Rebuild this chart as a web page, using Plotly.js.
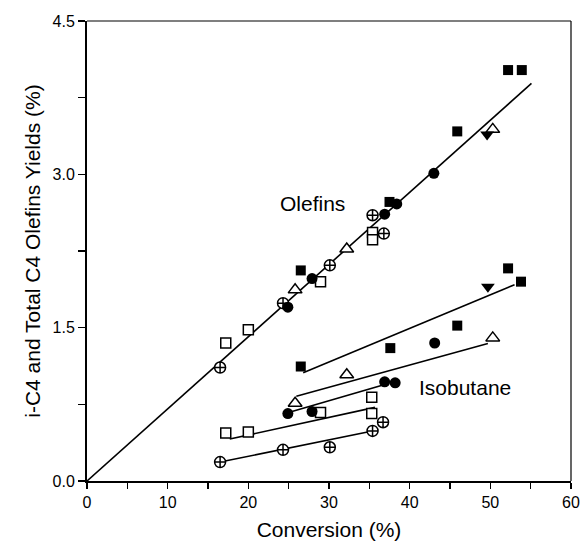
<!DOCTYPE html>
<html>
<head>
<meta charset="utf-8">
<script src="https://cdn.plot.ly/plotly-3.0.1.min.js"></script>
<style>html,body{margin:0;padding:0;background:#fff;}#chart{width:580px;height:544px;}</style>
</head>
<body>
<div id="chart"></div>
<script>
// ---- Data ----
// Olefins yields
const olefFilledSqX = [26.5, 37.5, 45.9, 52.2, 53.9];
const olefFilledSqY = [2.06, 2.73, 3.42, 4.02, 4.02];
const olefFilledCirX = [24.9, 27.9, 36.9, 38.4, 43.0];
const olefFilledCirY = [1.70, 1.98, 2.61, 2.71, 3.01];
const olefOpenSqX = [17.2, 20.0, 28.95, 35.4, 35.4];
const olefOpenSqY = [1.35, 1.48, 1.95, 2.43, 2.36];
const olefCrossX = [16.5, 24.3, 30.1, 35.4, 36.8];
const olefCrossY = [1.11, 1.74, 2.11, 2.60, 2.42];
const olefTriX = [25.8, 32.2, 50.3];
const olefTriY = [1.87, 2.27, 3.44];
const olefTriDownX = [49.6];
const olefTriDownY = [3.39];

// Isobutane yields
const isoFilledSqX = [26.5, 37.6, 45.9, 52.2, 53.8];
const isoFilledSqY = [1.12, 1.30, 1.52, 2.08, 1.95];
const isoFilledCirX = [24.9, 27.9, 36.9, 38.2, 43.1];
const isoFilledCirY = [0.66, 0.68, 0.97, 0.96, 1.35];
const isoOpenSqX = [17.2, 20.0, 28.95, 35.3, 35.3];
const isoOpenSqY = [0.47, 0.48, 0.67, 0.82, 0.66];
const isoCrossX = [16.5, 24.3, 30.1, 35.4, 36.7];
const isoCrossY = [0.185, 0.305, 0.33, 0.49, 0.575];
const isoTriX = [25.8, 32.2, 50.3];
const isoTriY = [0.76, 1.04, 1.40];
const isoTriDownX = [49.7];
const isoTriDownY = [1.90];

// Fitted lines (end points)
const fitOlefX = [0, 55.1];
const fitOlefY = [0, 3.89];
const fitIsoSqX = [26.8, 53.0];
const fitIsoSqY = [1.06, 1.92];
const fitIsoTriX = [25.95, 49.7];
const fitIsoTriY = [0.83, 1.345];
const fitIsoCirX = [25.2, 36.7];
const fitIsoCirY = [0.675, 0.94];
const fitIsoOpenSqX = [17.7, 35.7];
const fitIsoOpenSqY = [0.41, 0.72];
const fitIsoCrossX = [16.5, 35.4];
const fitIsoCrossY = [0.185, 0.49];

const xTickVals = [0, 10, 20, 30, 40, 50, 60];
const yTickVals = [0, 1.5, 3.0, 4.5];
const yTickText = ['0.0', '1.5', '3.0', '4.5'];

// ---- Traces ----
const FONT = 'Liberation Sans, Arial, Helvetica, sans-serif';
const traces = [];
function fit(x, y) {
  traces.push({x: x, y: y, mode: 'lines', line: {color: '#000', width: 1.6}, hoverinfo: 'skip', showlegend: false});
}
fit(fitOlefX, fitOlefY);
fit(fitIsoSqX, fitIsoSqY);
fit(fitIsoTriX, fitIsoTriY);
fit(fitIsoCirX, fitIsoCirY);
fit(fitIsoOpenSqX, fitIsoOpenSqY);
fit(fitIsoCrossX, fitIsoCrossY);

function pts(x, y, symbol, size, filled) {
  traces.push({
    x: x, y: y, mode: 'markers', showlegend: false,
    marker: {
      symbol: symbol, size: size,
      color: filled ? '#000' : '#fff',
      line: {color: '#000', width: filled ? 0 : 1.5}
    }
  });
}
pts(olefOpenSqX, olefOpenSqY, 'square', 10, false);
pts(isoOpenSqX, isoOpenSqY, 'square', 10, false);
pts(olefCrossX, olefCrossY, 'circle-cross', 11, false);
pts(isoCrossX, isoCrossY, 'circle-cross', 11, false);
pts(olefTriX, olefTriY, 'triangle-up', 12, false);
pts(isoTriX, isoTriY, 'triangle-up', 12, false);
pts(olefFilledSqX, olefFilledSqY, 'square', 10, true);
pts(isoFilledSqX, isoFilledSqY, 'square', 10, true);
pts(olefFilledCirX, olefFilledCirY, 'circle', 11, true);
pts(isoFilledCirX, isoFilledCirY, 'circle', 11, true);
pts(olefTriDownX, olefTriDownY, 'triangle-down', 12, true);
pts(isoTriDownX, isoTriDownY, 'triangle-down', 12, true);

const layout = {
  width: 580, height: 544,
  margin: {l: 87, r: 9, t: 21, b: 63},
  paper_bgcolor: '#fff', plot_bgcolor: '#fff',
  font: {family: FONT, color: '#000', size: 16},
  showlegend: false,
  xaxis: {
    range: [0, 60], tickvals: xTickVals, ticktext: xTickVals.map(String),
    ticks: 'outside', ticklen: 6, tickwidth: 1.5, tickcolor: '#000',
    minor: {dtick: 5, tick0: 0, ticks: 'outside', ticklen: 6, tickwidth: 1.5, tickcolor: '#000', showgrid: false},
    showgrid: false, zeroline: false,
    showline: true, linecolor: '#000', linewidth: 2,
    tickfont: {family: FONT, size: 16, color: '#000'},
    title: {text: 'Conversion (%)', font: {family: FONT, size: 21, color: '#000'}, standoff: 12}
  },
  yaxis: {
    range: [0, 4.5], tickvals: yTickVals, ticktext: yTickText,
    ticks: 'outside', ticklen: 7, tickwidth: 1.5, tickcolor: '#000',
    minor: {dtick: 0.75, tick0: 0, ticks: 'outside', ticklen: 7, tickwidth: 1.5, tickcolor: '#000', showgrid: false},
    showgrid: false, zeroline: false,
    showline: true, linecolor: '#000', linewidth: 2,
    tickfont: {family: FONT, size: 16, color: '#000'},
    title: {text: 'i-C4 and Total C4 Olefins Yields (%)', font: {family: FONT, size: 21, color: '#000'}, standoff: 6}
  },
  shapes: [
    {type: 'line', xref: 'paper', yref: 'paper', x0: 0, x1: 1, y0: 1, y1: 1, line: {color: '#000', width: 1.2}},
    {type: 'line', xref: 'paper', yref: 'paper', x0: 1, x1: 1, y0: 0, y1: 1, line: {color: '#000', width: 1.2}}
  ],
  annotations: [
    {x: 27.9, y: 2.71, xref: 'x', yref: 'y', text: 'Olefins', showarrow: false, font: {family: FONT, size: 21, color: '#000'}},
    {x: 46.8, y: 0.91, xref: 'x', yref: 'y', text: 'Isobutane', showarrow: false, font: {family: FONT, size: 21, color: '#000'}}
  ]
};

Plotly.newPlot('chart', traces, layout, {displayModeBar: false, staticPlot: true});
</script>
</body>
</html>
